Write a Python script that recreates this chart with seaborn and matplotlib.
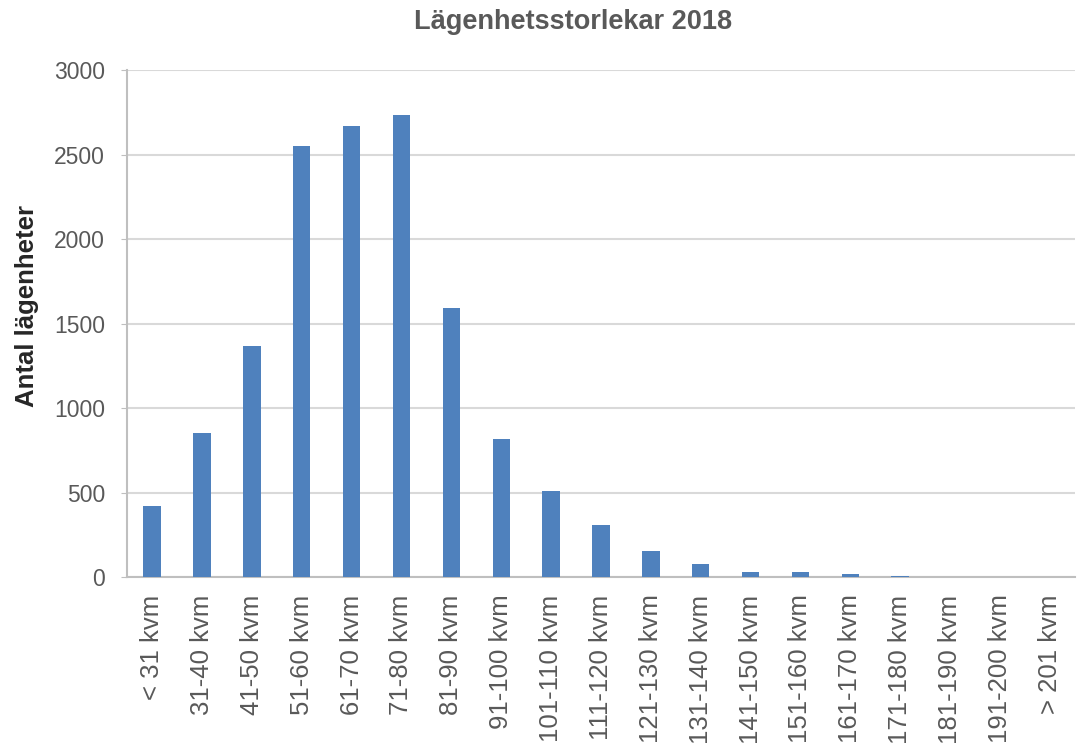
import matplotlib
matplotlib.use("Agg")
import matplotlib.pyplot as plt
import pandas as pd
import seaborn as sns

# Lägenhetsstorlekar 2018 - antal lägenheter per storleksklass
sizes = ["< 31 kvm", "31-40 kvm", "41-50 kvm", "51-60 kvm", "61-70 kvm",
         "71-80 kvm", "81-90 kvm", "91-100 kvm", "101-110 kvm", "111-120 kvm",
         "121-130 kvm", "131-140 kvm", "141-150 kvm", "151-160 kvm",
         "161-170 kvm", "171-180 kvm", "181-190 kvm", "191-200 kvm", "> 201 kvm"]
counts = [420, 855, 1366, 2552, 2671, 2736, 1591, 814, 512, 306,
          154, 77, 31, 31, 16, 8, 0, 0, 0]
yticks = [0, 500, 1000, 1500, 2000, 2500, 3000]

df = pd.DataFrame({"storlek": sizes, "antal": counts})

sns.set_style("white")
plt.rcParams["font.family"] = ["Liberation Sans", "DejaVu Sans"]

grey_text = "#595959"
grid_col = "#d9d9d9"

fig = plt.figure(figsize=(10.78, 7.46), dpi=100)
ax = fig.add_axes([0.118, 0.2265, 0.879, 0.6795])

sns.barplot(data=df, x="storlek", y="antal", color="#4f81bd", saturation=1,
            width=0.35, linewidth=0, ax=ax, zorder=3)

ax.set_ylim(0, 3000)
ax.set_yticks(yticks)
ax.set_xlim(-0.5, len(sizes) - 0.5)
ax.grid(axis="y", color=grid_col, linewidth=1.5, zorder=0)

for side in ["top", "right"]:
    ax.spines[side].set_visible(False)
ax.spines["left"].set_color("#bfbfbf")
ax.spines["left"].set_linewidth(1.5)
ax.spines["bottom"].set_color("#bfbfbf")
ax.spines["bottom"].set_linewidth(1.5)

ax.tick_params(axis="y", labelsize=16.5, labelcolor=grey_text, left=True,
               length=4, color="#bfbfbf", pad=12)
ax.tick_params(axis="x", labelsize=18.5, labelcolor=grey_text, bottom=False,
               pad=9, rotation=90)

ax.set_xlabel("")
ax.set_ylabel("Antal lägenheter", fontsize=18.5, fontweight="bold", color="#262626")
ax.yaxis.set_label_coords(-0.093, 0.535)

fig.text(0.532, 0.97, "Lägenhetsstorlekar 2018", ha="center", va="center",
         fontsize=19.5, fontweight="bold", color=grey_text)

fig.savefig("out.png", dpi=100)
